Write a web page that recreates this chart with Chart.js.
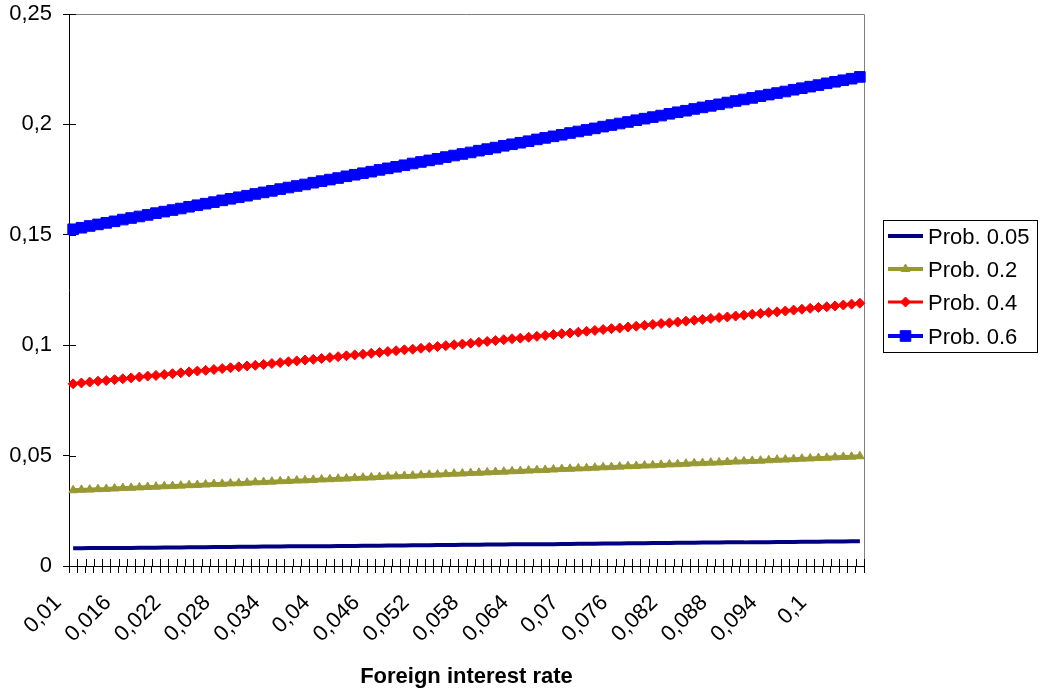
<!DOCTYPE html>
<html>
<head>
<meta charset="utf-8">
<script src="https://cdn.jsdelivr.net/npm/chart.js@4/dist/chart.umd.min.js"></script>
<style>
  html, body { margin: 0; padding: 0; background: #fff; }
  #wrap { width: 1040px; height: 696px; position: relative; }
</style>
</head>
<body>
<div id="wrap"><canvas id="chart"></canvas></div>
<script>
// x categories (foreign interest rate)
const rates = [
  '0,01', '0,011', '0,012', '0,013', '0,014', '0,015', '0,016', '0,017', '0,018', '0,019',
  '0,02', '0,021', '0,022', '0,023', '0,024', '0,025', '0,026', '0,027', '0,028', '0,029',
  '0,03', '0,031', '0,032', '0,033', '0,034', '0,035', '0,036', '0,037', '0,038', '0,039',
  '0,04', '0,041', '0,042', '0,043', '0,044', '0,045', '0,046', '0,047', '0,048', '0,049',
  '0,05', '0,051', '0,052', '0,053', '0,054', '0,055', '0,056', '0,057', '0,058', '0,059',
  '0,06', '0,061', '0,062', '0,063', '0,064', '0,065', '0,066', '0,067', '0,068', '0,069',
  '0,07', '0,071', '0,072', '0,073', '0,074', '0,075', '0,076', '0,077', '0,078', '0,079',
  '0,08', '0,081', '0,082', '0,083', '0,084', '0,085', '0,086', '0,087', '0,088', '0,089',
  '0,09', '0,091', '0,092', '0,093', '0,094', '0,095', '0,096', '0,097', '0,098', '0,099',
  '0,1', '0,101', '0,102', '0,103', '0,104', '0,105'
];

const prob005 = [
  0.0080, 0.0080, 0.0081, 0.0081, 0.0081, 0.0082, 0.0082, 0.0082, 0.0083, 0.0083,
  0.0083, 0.0084, 0.0084, 0.0084, 0.0085, 0.0085, 0.0085, 0.0086, 0.0086, 0.0086,
  0.0087, 0.0087, 0.0087, 0.0088, 0.0088, 0.0088, 0.0089, 0.0089, 0.0089, 0.0090,
  0.0090, 0.0090, 0.0091, 0.0091, 0.0091, 0.0092, 0.0092, 0.0092, 0.0093, 0.0093,
  0.0093, 0.0094, 0.0094, 0.0094, 0.0095, 0.0095, 0.0095, 0.0096, 0.0096, 0.0096,
  0.0097, 0.0097, 0.0097, 0.0098, 0.0098, 0.0098, 0.0099, 0.0099, 0.0099, 0.0100,
  0.0100, 0.0101, 0.0101, 0.0101, 0.0102, 0.0102, 0.0102, 0.0103, 0.0103, 0.0103,
  0.0104, 0.0104, 0.0104, 0.0105, 0.0105, 0.0105, 0.0106, 0.0106, 0.0106, 0.0107,
  0.0107, 0.0107, 0.0108, 0.0108, 0.0108, 0.0109, 0.0109, 0.0109, 0.0110, 0.0110,
  0.0110, 0.0111, 0.0111, 0.0111, 0.0112, 0.0112
];

const prob02 = [
  0.0343, 0.0345, 0.0346, 0.0348, 0.0349, 0.0351, 0.0353, 0.0354, 0.0356, 0.0358,
  0.0359, 0.0361, 0.0362, 0.0364, 0.0366, 0.0367, 0.0369, 0.0371, 0.0372, 0.0374,
  0.0375, 0.0377, 0.0379, 0.0380, 0.0382, 0.0384, 0.0385, 0.0387, 0.0388, 0.0390,
  0.0392, 0.0393, 0.0395, 0.0396, 0.0398, 0.0400, 0.0401, 0.0403, 0.0405, 0.0406,
  0.0408, 0.0409, 0.0411, 0.0413, 0.0414, 0.0416, 0.0418, 0.0419, 0.0421, 0.0422,
  0.0424, 0.0426, 0.0427, 0.0429, 0.0430, 0.0432, 0.0434, 0.0435, 0.0437, 0.0439,
  0.0440, 0.0442, 0.0443, 0.0445, 0.0447, 0.0448, 0.0450, 0.0452, 0.0453, 0.0455,
  0.0456, 0.0458, 0.0460, 0.0461, 0.0463, 0.0465, 0.0466, 0.0468, 0.0469, 0.0471,
  0.0473, 0.0474, 0.0476, 0.0477, 0.0479, 0.0481, 0.0482, 0.0484, 0.0486, 0.0487,
  0.0489, 0.0490, 0.0492, 0.0494, 0.0495, 0.0497
];

const prob04 = [
  0.0825, 0.0829, 0.0833, 0.0837, 0.0840, 0.0844, 0.0848, 0.0852, 0.0856, 0.0860,
  0.0863, 0.0867, 0.0871, 0.0875, 0.0879, 0.0883, 0.0886, 0.0890, 0.0894, 0.0898,
  0.0902, 0.0906, 0.0909, 0.0913, 0.0917, 0.0921, 0.0925, 0.0929, 0.0933, 0.0936,
  0.0940, 0.0944, 0.0948, 0.0952, 0.0956, 0.0959, 0.0963, 0.0967, 0.0971, 0.0975,
  0.0979, 0.0982, 0.0986, 0.0990, 0.0994, 0.0998, 0.1002, 0.1005, 0.1009, 0.1013,
  0.1017, 0.1021, 0.1025, 0.1029, 0.1032, 0.1036, 0.1040, 0.1044, 0.1048, 0.1052,
  0.1055, 0.1059, 0.1063, 0.1067, 0.1071, 0.1075, 0.1078, 0.1082, 0.1086, 0.1090,
  0.1094, 0.1098, 0.1101, 0.1105, 0.1109, 0.1113, 0.1117, 0.1121, 0.1125, 0.1128,
  0.1132, 0.1136, 0.1140, 0.1144, 0.1148, 0.1151, 0.1155, 0.1159, 0.1163, 0.1167,
  0.1171, 0.1174, 0.1178, 0.1182, 0.1186, 0.1190
];

const prob06 = [
  0.1525, 0.1532, 0.1540, 0.1547, 0.1554, 0.1561, 0.1569, 0.1576, 0.1583, 0.1590,
  0.1598, 0.1605, 0.1612, 0.1619, 0.1627, 0.1634, 0.1641, 0.1648, 0.1656, 0.1663,
  0.1670, 0.1677, 0.1685, 0.1692, 0.1699, 0.1707, 0.1714, 0.1721, 0.1728, 0.1736,
  0.1743, 0.1750, 0.1757, 0.1765, 0.1772, 0.1779, 0.1786, 0.1794, 0.1801, 0.1808,
  0.1815, 0.1823, 0.1830, 0.1837, 0.1844, 0.1852, 0.1859, 0.1866, 0.1873, 0.1881,
  0.1888, 0.1895, 0.1903, 0.1910, 0.1917, 0.1924, 0.1932, 0.1939, 0.1946, 0.1953,
  0.1961, 0.1968, 0.1975, 0.1982, 0.1990, 0.1997, 0.2004, 0.2011, 0.2019, 0.2026,
  0.2033, 0.2040, 0.2048, 0.2055, 0.2062, 0.2070, 0.2077, 0.2084, 0.2091, 0.2099,
  0.2106, 0.2113, 0.2120, 0.2128, 0.2135, 0.2142, 0.2149, 0.2157, 0.2164, 0.2171,
  0.2178, 0.2186, 0.2193, 0.2200, 0.2207, 0.2215
];

const yTicks = [0, 0.05, 0.1, 0.15, 0.2, 0.25];
const yTickLabels = ['0', '0,05', '0,1', '0,15', '0,2', '0,25'];
const labelEvery = 6;

const FONT = "'Liberation Sans', Arial, sans-serif";

function series(label, data, color, style, radius, width) {
  return {
    label: label,
    data: data,
    borderColor: color,
    backgroundColor: color,
    borderWidth: width,
    pointStyle: style,
    pointRadius: radius,
    pointHoverRadius: radius,
    pointBackgroundColor: color,
    pointBorderColor: color,
    pointBorderWidth: 1,
    tension: 0,
    fill: false
  };
}

const datasets = [
  series('Prob. 0.05', prob005, '#000080', false, 0, 4),
  series('Prob. 0.2', prob02, '#999933', 'triangle', 5, 4),
  series('Prob. 0.4', prob04, '#ff0000', 'rectRot', 5, 3),
  series('Prob. 0.6', prob06, '#0000ff', 'rect', 7.5, 4)
];

// frame lines, inner halves of tick marks and the boxed legend
const decorations = {
  id: 'decorations',
  beforeDatasetsDraw(chart) {
    const { ctx, chartArea: a, scales } = chart;
    ctx.save();
    ctx.strokeStyle = '#808080';
    ctx.lineWidth = 1;
    ctx.beginPath();
    ctx.moveTo(a.left, Math.round(a.top) + 0.5);
    ctx.lineTo(a.right + 0.5, Math.round(a.top) + 0.5);
    ctx.lineTo(Math.round(a.right) + 0.5, a.bottom);
    ctx.stroke();

    ctx.strokeStyle = '#000';
    ctx.beginPath();
    const n = rates.length;
    const step = a.width / n;
    for (let k = 0; k <= n; k++) {
      const x = Math.round(a.left + k * step) + 0.5;
      ctx.moveTo(x, a.bottom - 7);
      ctx.lineTo(x, a.bottom);
    }
    for (const v of yTicks) {
      const y = Math.round(scales.y.getPixelForValue(v)) + 0.5;
      ctx.moveTo(a.left, y);
      ctx.lineTo(a.left + 7, y);
    }
    ctx.stroke();
    ctx.restore();
  },
  afterDraw(chart) {
    const { ctx } = chart;
    const box = { x: 883.5, y: 220.5, w: 154, h: 132 };
    const rowY = [236, 269, 302, 336];
    ctx.save();
    ctx.fillStyle = '#fff';
    ctx.fillRect(box.x, box.y, box.w, box.h);
    ctx.strokeStyle = '#000';
    ctx.lineWidth = 1;
    ctx.strokeRect(box.x, box.y, box.w, box.h);
    ctx.font = '22px ' + FONT;
    ctx.textBaseline = 'middle';
    ctx.textAlign = 'left';
    chart.data.datasets.forEach((ds, i) => {
      const y = rowY[i];
      ctx.strokeStyle = ds.borderColor;
      ctx.lineWidth = ds.borderWidth;
      ctx.beginPath();
      ctx.moveTo(888, y);
      ctx.lineTo(923, y);
      ctx.stroke();
      if (ds.pointStyle) {
        ctx.fillStyle = ds.borderColor;
        ctx.lineWidth = 1;
        Chart.helpers.drawPoint(ctx, { pointStyle: ds.pointStyle, radius: ds.pointRadius, borderWidth: 1, rotation: 0 }, 905.5, y);
      }
      ctx.fillStyle = '#000';
      ctx.fillText(ds.label, 928, y + 2);
    });
    ctx.restore();
  }
};

new Chart(document.getElementById('chart'), {
  type: 'line',
  data: { labels: rates, datasets: datasets },
  plugins: [decorations],
  options: {
    responsive: true,
    maintainAspectRatio: false,
    animation: false,
    events: [],
    layout: { padding: { top: 14, right: 176, left: 0, bottom: 0 } },
    plugins: {
      legend: { display: false },
      tooltip: { enabled: false }
    },
    scales: {
      x: {
        type: 'category',
        offset: true,
        grid: { offset: true, drawOnChartArea: false, drawTicks: true, tickLength: 7, color: '#000', tickColor: '#000' },
        border: { color: '#000', width: 1 },
        ticks: {
          autoSkip: false,
          maxRotation: 45,
          minRotation: 45,
          padding: 17,
          labelOffset: -15,
          color: '#000',
          font: { family: FONT, size: 22 },
          callback: function (v, i) { return i % labelEvery === 0 ? this.getLabelForValue(v) : ''; }
        },
        title: {
          display: true,
          text: 'Foreign interest rate',
          color: '#000',
          font: { family: FONT, size: 22, weight: 'bold' },
          padding: { top: 0, bottom: 6 }
        },
        afterFit: (s) => { s.height = 130; s.paddingLeft = 0; s.paddingRight = 0; }
      },
      y: {
        min: 0,
        max: 0.25,
        afterBuildTicks: (s) => { s.ticks = yTicks.map(v => ({ value: v })); },
        grid: { drawOnChartArea: false, drawTicks: true, tickLength: 6, color: '#000' },
        border: { color: '#000', width: 1 },
        ticks: {
          padding: 11,
          color: '#000',
          font: { family: FONT, size: 22 },
          callback: (v) => yTickLabels[yTicks.indexOf(v)]
        },
        afterFit: (s) => { s.width = 69; s.paddingTop = 0; s.paddingBottom = 0; }
      }
    }
  }
});
</script>
</body>
</html>
